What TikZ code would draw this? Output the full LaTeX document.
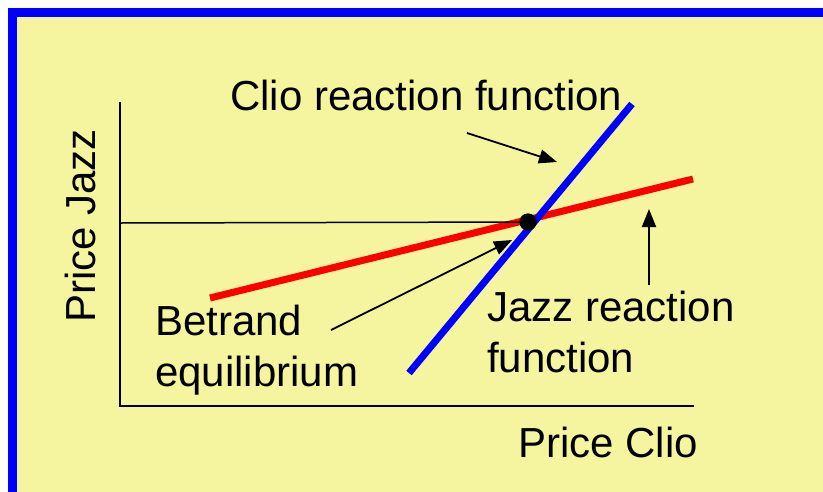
\documentclass[tikz,border=0pt]{standalone}
\usepackage{fontspec}
\setmainfont{Liberation Sans}
\usetikzlibrary{arrows.meta}
\definecolor{paper}{RGB}{245,245,160}
\tikzset{
  lbl/.style={anchor=base west, inner sep=0pt, align=left,
    font=\fontsize{42}{51}\selectfont},
  pointer/.style={line width=1.8pt, -{Triangle[length=18pt,width=14pt]}},
  reaction/.style={line width=7pt},
}
\begin{document}
\begin{tikzpicture}[x=1pt,y=-1pt]
\clip (0,0) rectangle (823,491);
\fill[white] (0,0) rectangle (823,491);
\filldraw[fill=paper, draw=blue, line width=9pt] (12.5,12.5) rectangle (850,520);

\coordinate (top) at (120,102);
\coordinate (origin) at (120,406);
\coordinate (right) at (694,406);
\draw[line width=1.5pt] (top) -- (origin) -- (right);

\coordinate (jazz1) at (210,298);
\coordinate (jazz2) at (693,179);
\coordinate (clio1) at (409,373);
\coordinate (clio2) at (632,104);
\draw[reaction, red] (jazz1) -- (jazz2);
\draw[reaction, blue] (clio1) -- (clio2);

\coordinate (pj) at (120,223);
\node[circle, fill=black, inner sep=0pt, minimum size=17pt] (eq) at (528,222) {};
\draw[line width=1.5pt] (pj) -- (eq.center);
\node[circle, fill=black, inner sep=0pt, minimum size=17pt] at (eq) {};

% multi-line nodes sit on their last baseline
\node[lbl] (clio) at (230,110) {Clio reaction function};
\node[lbl] (bert) at (155,386) {Betrand\\equilibrium};
\node[lbl] (jazz) at (487,372) {Jazz reaction\\function};
\node[lbl] (px) at (518,457) {Price Clio};
\node[lbl, rotate=90] (py) at (95,323) {Price Jazz};

\coordinate (ctail) at (467,133);
\coordinate (ctip) at (557,162);
\coordinate (btail) at (331,330);
\coordinate (btip) at (512,240);
\coordinate (jtail) at (649,285);
\coordinate (jtip) at (649,209);
\draw[pointer] (ctail) -- (ctip);
\draw[pointer] (btail) -- (btip);
\draw[pointer] (jtail) -- (jtip);
\end{tikzpicture}
\end{document}
